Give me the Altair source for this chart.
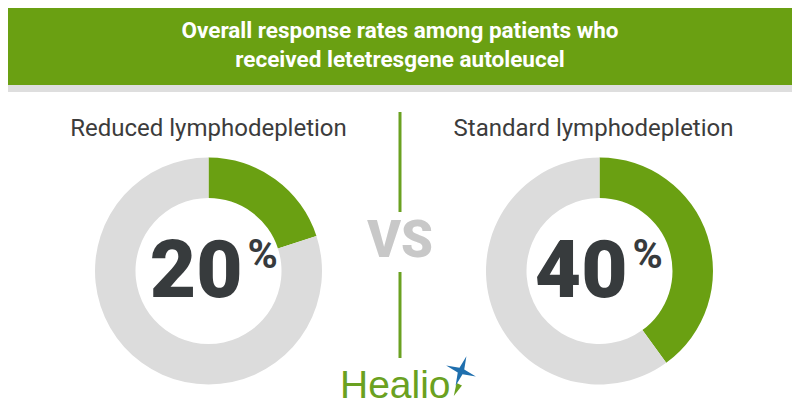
import altair as alt
import pandas as pd

# ---- data ----
title_lines = ["Overall response rates among patients who", "received letetresgene autoleucel"]
groups = ["Reduced lymphodepletion", "Standard lymphodepletion"]
response_rates = [20, 40]
segments = ["Response", "No response"]
vs_label = "VS"
brand = "Healio"

GREEN = "#6aa012"
GRAY = "#dcdcdc"
DARK = "#373b3d"

rows = []
for g, r in zip(groups, response_rates):
    rows.append({"group": g, "segment": segments[0], "start": 0, "end": r})
    rows.append({"group": g, "segment": segments[1], "start": r, "end": 100})
arc_df = pd.DataFrame(rows)
text_df = pd.DataFrame({"group": groups, "rate": response_rates,
                        "num": [str(r) for r in response_rates], "pct": ["%"] * len(groups)})

W, H = 784, 400
CY = 263
xenc = alt.X("group:N", scale=alt.Scale(type="point", domain=groups, range=[200.5, 591.5], padding=0), axis=None)

header = alt.Chart(pd.DataFrame({"a": [0]})).mark_rect(color=GREEN).encode(
    x=alt.value(0), x2=alt.value(W), y=alt.value(0), y2=alt.value(77))
band = alt.Chart(pd.DataFrame({"a": [0]})).mark_rect(color="#dedede").encode(
    x=alt.value(0), x2=alt.value(W), y=alt.value(77), y2=alt.value(84))

title_df = pd.DataFrame({"line": title_lines, "i": list(range(len(title_lines)))})
title = alt.Chart(title_df).mark_text(
    font="Roboto", fontWeight="bold",
    fontSize=22.5, color="white", align="center", baseline="alphabetic").encode(
    x=alt.value(392),
    y=alt.Y("i:O", scale=alt.Scale(domain=[0, 1], range=[30, 59], type="point", padding=0), axis=None),
    text="line:N")

donuts = alt.Chart(arc_df).mark_arc(radius=113.5, radius2=73, stroke=None).encode(
    x=xenc, y=alt.value(CY),
    theta=alt.Theta("start:Q", scale=alt.Scale(domain=[0, 100]), stack=None),
    theta2="end:Q",
    color=alt.Color("segment:N", scale=alt.Scale(domain=segments, range=[GREEN, GRAY]), legend=None))

layers = [header, band, title, donuts]

# per-panel text tweaks (dx) to match the original layout
sub_dx = [0, -6]
num_dx = [34, 28]
pct_dx = [39, 33]
for i, g in enumerate(groups):
    base = alt.Chart(text_df).transform_filter(alt.datum.group == g)
    layers.append(base.mark_text(font="Roboto", fontSize=24, color="#3c3c3c", align="center",
                                 baseline="alphabetic", dx=sub_dx[i]).encode(
        x=xenc, y=alt.value(128), text="group:N"))
    layers.append(base.mark_text(font="Roboto", fontWeight=900, fontSize=80, color=DARK, align="right",
                                 baseline="alphabetic", dx=num_dx[i]).encode(
        x=xenc, y=alt.value(289), text="num:N"))
    layers.append(base.mark_text(font="Roboto", fontWeight="bold", fontSize=41, color=DARK, align="left",
                                 baseline="alphabetic", dx=pct_dx[i]).encode(
        x=xenc, y=alt.value(260), text="pct:N"))

vs = alt.Chart(pd.DataFrame({"t": [vs_label]})).mark_text(
    font="Roboto", fontWeight=900, fontSize=51, color="#c8c8c8", align="center", baseline="alphabetic").encode(
    x=alt.value(392), y=alt.value(249), text="t:N")
line_top = alt.Chart(pd.DataFrame({"a": [0]})).mark_rule(color="#6aa121", strokeWidth=3).encode(
    x=alt.value(392), y=alt.value(104), y2=alt.value(204))
line_bot = alt.Chart(pd.DataFrame({"a": [0]})).mark_rule(color="#6aa121", strokeWidth=3).encode(
    x=alt.value(392), y=alt.value(264), y2=alt.value(350))
logo = alt.Chart(pd.DataFrame({"t": [brand]})).mark_text(
    font="Liberation Sans", fontSize=39, color="#6aa121", align="left", baseline="alphabetic").encode(
    x=alt.value(332), y=alt.value(390), text="t:N")
star_path = "M0,-1 L0.16,-0.16 L1,0 L0.16,0.16 L0,1 L-0.16,0.16 L-1,0 L-0.16,-0.16 Z"
star = alt.Chart(pd.DataFrame({"a": [0]})).mark_point(
    shape=star_path, filled=True, color="#1f6fae", size=1000, angle=20, opacity=1).encode(
    x=alt.value(453), y=alt.value(363))
star_g = alt.Chart(pd.DataFrame({"a": [0]})).mark_point(
    shape="M0,-1 L0.3,0.3 L-0.3,0.3 Z", filled=True, color="#6aa121", size=400, angle=205, opacity=1).encode(
    x=alt.value(450), y=alt.value(379))

layers += [vs, line_top, line_bot, logo, star_g, star]

chart = alt.layer(*layers).properties(
    width=W, height=H, autosize=alt.AutoSizeParams(type="none"), padding=0, background="white"
).configure_view(stroke=None)

chart.save("out.html", embed_options={"renderer": "svg", "actions": False})
